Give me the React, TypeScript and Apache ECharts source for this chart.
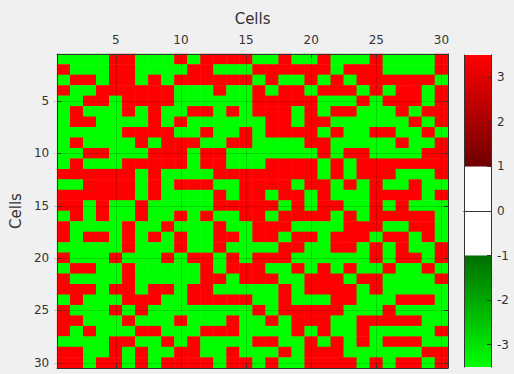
import { useEffect, useRef } from "react";
import * as echarts from "echarts";

// Cell values: R = strongly positive (red), G = strongly negative (green)
const R = 3.5;
const G = -3.5;

const cellLabels = [
  "1", "2", "3", "4", "5", "6", "7", "8", "9", "10",
  "11", "12", "13", "14", "15", "16", "17", "18", "19", "20",
  "21", "22", "23", "24", "25", "26", "27", "28", "29", "30",
];

const cellRows = [
  [G,G,G,G,R,R,G,G,G,R,G,R,R,R,R, G,G,R,G,G,R,G,G,G,R,G,G,G,G,R],
  [R,G,G,G,R,R,G,G,G,G,R,R,G,G,G, R,R,R,R,R,R,G,R,R,R,G,G,G,G,R],
  [G,R,R,G,R,R,G,R,G,R,R,R,R,R,R, G,R,G,G,R,G,R,G,R,R,R,R,R,R,G],
  [R,G,G,R,R,R,R,R,R,G,G,G,R,G,G, R,G,R,R,G,R,R,R,G,R,G,R,R,G,R],
  [G,G,R,R,G,R,R,R,R,G,G,G,G,G,G, R,R,R,R,R,G,G,G,R,G,R,R,R,G,R],
  [G,R,G,G,G,R,G,R,G,G,R,R,G,R,G, R,R,R,G,R,G,R,R,G,G,G,R,G,R,R],
  [G,R,R,G,G,G,G,R,G,R,G,G,G,G,G, G,R,R,G,R,R,G,G,G,G,G,G,R,G,R],
  [G,G,G,G,G,R,R,R,R,G,G,R,G,G,R, G,R,R,R,R,G,R,G,G,R,R,G,G,R,G],
  [G,R,G,G,G,G,R,G,R,R,R,G,G,R,R, G,G,G,G,R,R,G,G,G,G,G,R,G,G,R],
  [G,G,R,R,G,G,G,R,R,R,G,R,R,G,G, G,G,G,G,G,R,G,R,R,G,G,G,G,R,R],
  [G,R,G,G,G,R,R,R,R,R,G,R,R,G,G, G,R,R,R,R,G,R,G,R,R,R,R,R,R,R],
  [R,R,R,R,R,R,G,R,G,G,G,G,R,R,R, R,R,R,R,R,G,R,G,R,R,R,G,G,G,R],
  [G,G,R,R,R,R,G,R,G,R,R,R,G,G,R, R,R,R,G,R,R,G,R,G,R,G,G,R,G,G],
  [R,R,R,R,R,R,G,R,G,G,G,G,R,G,R, R,G,R,R,G,R,G,G,G,R,R,R,R,G,R],
  [R,R,G,R,G,G,R,G,G,G,G,G,R,R,R, R,R,G,R,G,R,R,G,G,R,G,R,G,G,G],
  [G,R,G,R,G,G,R,G,G,R,G,R,G,G,R, R,G,R,R,R,R,G,R,G,R,R,R,R,R,G],
  [R,G,G,G,G,R,G,G,R,G,G,G,R,G,G, R,R,R,G,G,G,G,R,R,R,G,G,R,R,G],
  [R,G,R,R,G,R,G,R,G,R,G,G,R,R,G, R,R,G,R,R,G,R,R,R,G,R,R,G,R,G],
  [G,G,G,G,G,R,G,G,G,R,G,G,R,G,G, G,G,R,R,G,G,R,R,G,R,G,R,G,G,R],
  [R,G,G,G,R,G,G,G,R,G,R,R,G,R,G, R,R,R,G,G,G,G,G,G,R,G,R,R,G,R],
  [G,R,R,G,G,R,G,G,G,G,G,R,G,R,R, R,G,G,R,G,R,G,R,G,G,R,G,G,R,G],
  [R,G,G,G,G,R,G,G,G,G,G,R,R,G,R, R,R,G,G,R,R,R,G,R,R,G,G,G,G,R],
  [R,R,R,G,R,R,G,R,R,G,R,R,G,G,G, G,G,R,G,R,R,R,R,G,R,G,G,G,G,G],
  [G,R,G,G,G,R,R,R,G,G,R,R,R,R,R, G,G,R,G,G,G,R,R,G,G,G,R,R,R,G],
  [R,G,G,G,R,G,R,G,G,G,G,G,G,G,G, R,G,R,R,R,R,R,G,G,G,R,G,G,G,G],
  [R,R,G,G,G,R,G,G,G,R,G,G,G,R,G, G,R,G,R,R,R,G,G,R,R,R,R,R,G,G],
  [R,G,R,G,G,G,R,R,G,G,G,R,R,R,G, G,G,G,R,G,R,G,G,R,G,G,G,G,G,R],
  [G,G,G,G,R,R,G,G,R,G,R,G,G,G,G, R,R,G,G,R,G,R,G,R,G,R,R,R,G,G],
  [R,R,G,G,R,G,R,G,G,R,R,G,G,R,G, G,G,R,G,R,R,R,G,G,G,G,G,G,R,R],
  [R,R,G,R,R,G,R,G,R,R,R,R,G,R,R, G,R,G,G,R,R,R,R,G,R,G,R,R,G,R],
];

const colorbarTicks = [-3, -2, -1, 0, 1, 2, 3];
const colorbarMin = -3.5;
const colorbarMax = 3.5;
// stacked colour-bar bands (from 0 outward)
const bandWhiteNeg = [-1];
const bandGreen = [-2.5];
const bandWhitePos = [1];
const bandRed = [2.5];

const FONT = "DejaVu Sans";
const TEXT = "#333333";
const FRAME = "#333333";

const everyFifth = (index: number) => (index + 1) % 5 === 0;

export default function App() {
  const ref = useRef<HTMLDivElement>(null);

  useEffect(() => {
    if (!ref.current) return;
    const chart = echarts.init(ref.current, undefined, { renderer: "svg" });

    const heatData: number[][] = [];
    cellRows.forEach((row, r) => {
      row.forEach((v, c) => heatData.push([c, r, v]));
    });

    const frameLine = { show: true, lineStyle: { color: FRAME, width: 1 } };
    const shortTick = {
      show: true,
      inside: true,
      length: 4,
      alignWithLabel: true,
      interval: everyFifth,
      lineStyle: { color: FRAME, width: 1 },
    };
    const gridTick = (len: number) => ({
      show: true,
      inside: true,
      length: len,
      alignWithLabel: true,
      interval: everyFifth,
      lineStyle: { color: "rgba(0,0,0,0.16)", width: 1 },
    });
    const labelStyle = { fontFamily: FONT, fontSize: 12, color: TEXT };

    chart.setOption({
      animation: false,
      backgroundColor: "#f0f0f0",
      grid: [
        { left: 54, top: 54, width: 394, height: 314, containLabel: false },
        { left: 464, top: 55, width: 27, height: 312, containLabel: false },
      ],
      xAxis: [
        {
          gridIndex: 0,
          type: "category",
          data: cellLabels,
          position: "top",
          name: "Cells",
          nameLocation: "middle",
          nameGap: 28,
          nameTextStyle: { fontFamily: FONT, fontSize: 15, color: TEXT },
          axisLine: frameLine,
          axisTick: shortTick,
          axisLabel: { ...labelStyle, interval: everyFifth, margin: 8 },
          splitLine: { show: false },
          z: 10,
        },
        {
          gridIndex: 0,
          type: "category",
          data: cellLabels,
          position: "bottom",
          axisLine: frameLine,
          axisTick: shortTick,
          axisLabel: { show: false },
          splitLine: { show: false },
          z: 10,
        },
        {
          gridIndex: 0,
          type: "category",
          data: cellLabels,
          position: "bottom",
          axisLine: { show: false },
          axisTick: gridTick(314),
          axisLabel: { show: false },
          splitLine: { show: false },
          z: 9,
        },
        {
          gridIndex: 1,
          type: "category",
          data: ["bar"],
          position: "bottom",
          axisLine: frameLine,
          axisTick: { show: false },
          axisLabel: { show: false },
          z: 10,
        },
        {
          gridIndex: 1,
          type: "category",
          data: ["bar"],
          position: "top",
          axisLine: frameLine,
          axisTick: { show: false },
          axisLabel: { show: false },
          z: 10,
        },
      ],
      yAxis: [
        {
          gridIndex: 0,
          type: "category",
          data: cellLabels,
          inverse: true,
          position: "left",
          name: "Cells",
          nameLocation: "middle",
          nameGap: 28,
          nameRotate: 90,
          nameTextStyle: { fontFamily: FONT, fontSize: 15, color: TEXT },
          axisLine: frameLine,
          axisTick: shortTick,
          axisLabel: { ...labelStyle, interval: everyFifth, margin: 8 },
          splitLine: { show: false },
          z: 10,
        },
        {
          gridIndex: 0,
          type: "category",
          data: cellLabels,
          inverse: true,
          position: "right",
          axisLine: frameLine,
          axisTick: shortTick,
          axisLabel: { show: false },
          splitLine: { show: false },
          z: 10,
        },
        {
          gridIndex: 0,
          type: "category",
          data: cellLabels,
          inverse: true,
          position: "right",
          axisLine: { show: false },
          axisTick: gridTick(394),
          axisLabel: { show: false },
          splitLine: { show: false },
          z: 9,
        },
        {
          gridIndex: 1,
          type: "value",
          min: colorbarMin,
          max: colorbarMax,
          position: "right",
          axisLine: frameLine,
          axisTick: {
            show: true,
            inside: true,
            length: 4,
            customValues: colorbarTicks,
            lineStyle: { color: FRAME },
          },
          axisLabel: { ...labelStyle, customValues: colorbarTicks, margin: 6 },
          splitLine: { show: false },
          z: 10,
        },
        {
          gridIndex: 1,
          type: "value",
          min: colorbarMin,
          max: colorbarMax,
          position: "left",
          axisLine: frameLine,
          axisTick: { show: false },
          axisLabel: { show: false },
          splitLine: { show: false },
          z: 10,
        },
      ],
      visualMap: {
        show: false,
        type: "continuous",
        seriesIndex: 0,
        min: colorbarMin,
        max: colorbarMax,
        inRange: { color: ["#00ff00", "#ff0000"] },
      },
      series: [
        {
          type: "heatmap",
          xAxisIndex: 0,
          yAxisIndex: 0,
          data: heatData,
          emphasis: { disabled: true },
          progressive: 0,
        },
        {
          type: "bar",
          xAxisIndex: 3,
          yAxisIndex: 3,
          stack: "cb",
          barWidth: "100%",
          data: bandWhiteNeg,
          itemStyle: { color: "#ffffff" },
          silent: true,
        },
        {
          type: "bar",
          xAxisIndex: 3,
          yAxisIndex: 3,
          stack: "cb",
          barWidth: "100%",
          data: bandGreen,
          itemStyle: {
            color: new echarts.graphic.LinearGradient(0, 0, 0, 1, [
              { offset: 0, color: "#006e00" },
              { offset: 1, color: "#00ff00" },
            ]),
          },
          silent: true,
        },
        {
          type: "bar",
          xAxisIndex: 3,
          yAxisIndex: 3,
          stack: "cb",
          barWidth: "100%",
          data: bandWhitePos,
          itemStyle: { color: "#ffffff" },
          silent: true,
        },
        {
          type: "bar",
          xAxisIndex: 3,
          yAxisIndex: 3,
          stack: "cb",
          barWidth: "100%",
          data: bandRed,
          itemStyle: {
            color: new echarts.graphic.LinearGradient(0, 0, 0, 1, [
              { offset: 0, color: "#ff0000" },
              { offset: 1, color: "#6e0000" },
            ]),
          },
          silent: true,
        },
      ],
    });

    return () => chart.dispose();
  }, []);

  return (
    <div
      ref={ref}
      style={{ position: "fixed", left: 0, top: 0, width: 514, height: 374 }}
    />
  );
}
